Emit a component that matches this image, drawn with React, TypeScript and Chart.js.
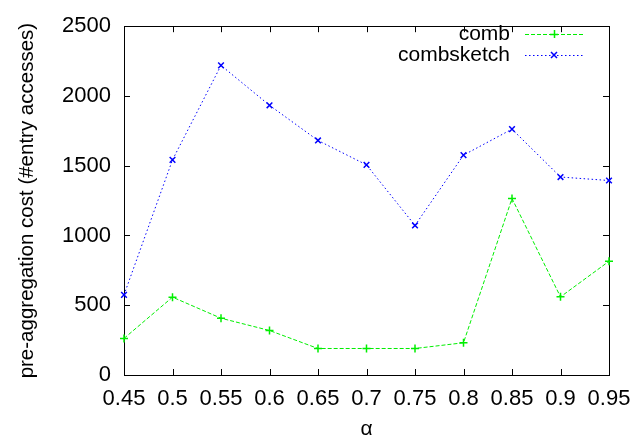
import React, { useEffect, useRef } from "react";
import { Chart, registerables } from "chart.js";

Chart.register(...registerables);

const alphas = [0.45, 0.5, 0.55, 0.6, 0.65, 0.7, 0.75, 0.8, 0.85, 0.9, 0.95];
const combValues = [262, 558, 407, 319, 190, 190, 190, 231, 1265, 560, 815];
const combSketchValues = [574, 1542, 2219, 1933, 1681, 1506, 1072, 1576, 1762, 1419, 1394];
const seriesLabels = ["comb", "combsketch"];
const xTitle = "α";
const yTitle = "pre-aggregation cost (#entry accesses)";

const FONT = "'Liberation Sans', Arial, Helvetica, sans-serif";

const framePlugin = {
  id: "gnuplotFrame",
  beforeDatasetsDraw(chart: any) {
    const { ctx, chartArea } = chart;
    const { left, right, top, bottom } = chartArea;
    const xs = chart.scales.x;
    const ys = chart.scales.y;
    const tl = 6;
    ctx.save();
    ctx.strokeStyle = "#000";
    ctx.lineWidth = 1;
    ctx.beginPath();
    xs.ticks.forEach((t: any) => {
      const px = Math.round(xs.getPixelForValue(t.value)) + 0.5;
      ctx.moveTo(px, bottom);
      ctx.lineTo(px, bottom - tl);
      ctx.moveTo(px, top);
      ctx.lineTo(px, top + tl);
    });
    ys.ticks.forEach((t: any) => {
      const py = Math.round(ys.getPixelForValue(t.value)) + 0.5;
      ctx.moveTo(left, py);
      ctx.lineTo(left + tl, py);
      ctx.moveTo(right, py);
      ctx.lineTo(right - tl, py);
    });
    ctx.stroke();
    ctx.strokeRect(Math.round(left) + 0.5, Math.round(top) + 0.5, Math.round(right - left), Math.round(bottom - top));
    ctx.restore();
  },
};

const legendPlugin = {
  id: "gnuplotLegend",
  afterDraw(chart: any) {
    const { ctx } = chart;
    const textRight = 510;
    const lineStart = 525;
    const lineEnd = 583;
    const rows = [34, 55];
    ctx.save();
    chart.data.datasets.forEach((ds: any, i: number) => {
      const y = rows[i];
      ctx.font = `21px ${FONT}`;
      ctx.fillStyle = "#000";
      ctx.textAlign = "right";
      ctx.textBaseline = "middle";
      ctx.fillText(ds.label, textRight, y);
      ctx.strokeStyle = ds.borderColor;
      ctx.lineWidth = ds.borderWidth;
      ctx.setLineDash(ds.borderDash || []);
      ctx.beginPath();
      ctx.moveTo(lineStart, y + 0.5);
      ctx.lineTo(lineEnd, y + 0.5);
      ctx.stroke();
      ctx.setLineDash([]);
      const mx = (lineStart + lineEnd) / 2;
      const r = ds.pointRadius;
      ctx.beginPath();
      if (ds.pointStyle === "cross") {
        ctx.moveTo(mx - r, y + 0.5);
        ctx.lineTo(mx + r, y + 0.5);
        ctx.moveTo(mx + 0.5, y - r);
        ctx.lineTo(mx + 0.5, y + r);
      } else {
        const d = r * 0.75;
        ctx.moveTo(mx - d, y - d);
        ctx.lineTo(mx + d, y + d);
        ctx.moveTo(mx - d, y + d);
        ctx.lineTo(mx + d, y - d);
      }
      ctx.lineWidth = 1.5;
      ctx.stroke();
    });
    ctx.restore();
  },
};

export default function App() {
  const canvasRef = useRef<HTMLCanvasElement | null>(null);

  useEffect(() => {
    if (!canvasRef.current) return;
    const chart = new Chart(canvasRef.current, {
      type: "line",
      data: {
        datasets: [
          {
            label: seriesLabels[0],
            data: alphas.map((a, i) => ({ x: a, y: combValues[i] })),
            borderColor: "#00ee00",
            backgroundColor: "#00ee00",
            borderWidth: 1,
            borderDash: [4, 2],
            pointStyle: "cross",
            pointRadius: 4,
            pointBorderWidth: 1.5,
            tension: 0,
            fill: false,
            clip: false,
          } as any,
          {
            label: seriesLabels[1],
            data: alphas.map((a, i) => ({ x: a, y: combSketchValues[i] })),
            borderColor: "#0000ff",
            backgroundColor: "#0000ff",
            borderWidth: 1,
            borderDash: [1.5, 2.5],
            pointStyle: "crossRot",
            pointRadius: 4,
            pointBorderWidth: 1.5,
            tension: 0,
            fill: false,
            clip: false,
          } as any,
        ],
      },
      options: {
        animation: false,
        responsive: false,
        maintainAspectRatio: false,
        layout: { padding: { left: 0, right: 35, top: 18, bottom: 0 } },
        plugins: {
          legend: { display: false },
          tooltip: { enabled: false },
        },
        scales: {
          x: {
            type: "linear",
            min: 0.45,
            max: 0.95,
            grid: { display: false, drawTicks: false },
            border: { display: false },
            ticks: {
              stepSize: 0.05,
              color: "#000",
              padding: 11,
              maxRotation: 0,
              autoSkip: false,
              font: { family: FONT, size: 22 },
              callback: (v: any) => String(parseFloat(Number(v).toFixed(2))),
            },
            title: {
              display: true,
              text: xTitle,
              color: "#000",
              font: { family: FONT, size: 21 },
              padding: { top: 0, bottom: 0 },
            },
            afterFit: (s: any) => {
              s.height = 67;
            },
          },
          y: {
            type: "linear",
            min: 0,
            max: 2500,
            grid: { display: false, drawTicks: false },
            border: { display: false },
            ticks: {
              stepSize: 500,
              color: "#000",
              padding: 13,
              font: { family: FONT, size: 22 },
              callback: (v: any) => String(v),
            },
            title: {
              display: true,
              text: yTitle,
              color: "#000",
              font: { family: FONT, size: 20.5 },
              padding: { top: 15, bottom: 0 },
            },
            afterFit: (s: any) => {
              s.width = 124;
            },
          },
        },
      },
      plugins: [framePlugin, legendPlugin],
    });
    return () => chart.destroy();
  }, []);

  return (
    <div style={{ position: "absolute", left: 0, top: 0, width: 644, height: 442, background: "#fff" }}>
      <canvas ref={canvasRef} width={644} height={442} style={{ display: "block" }} />
    </div>
  );
}
